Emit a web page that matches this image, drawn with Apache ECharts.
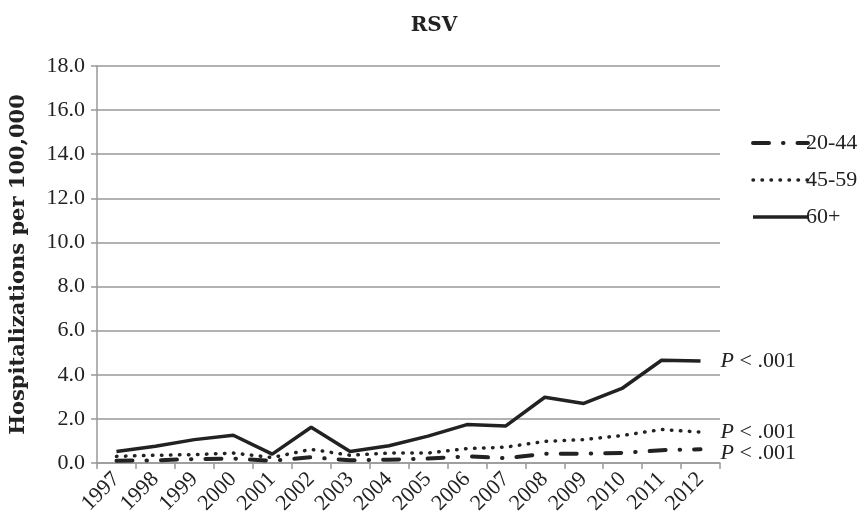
<!DOCTYPE html>
<html><head><meta charset="utf-8">
<script src="https://cdn.jsdelivr.net/npm/echarts@6/dist/echarts.min.js"></script>
<style>html,body{margin:0;padding:0;background:#fff}#c{width:862px;height:521px}</style>
</head><body><div id="c"></div>
<script>
const years = ['1997','1998','1999','2000','2001','2002','2003','2004','2005','2006','2007','2008','2009','2010','2011','2012'];
const s2044 = [0.10,0.12,0.18,0.20,0.10,0.26,0.12,0.15,0.20,0.30,0.22,0.42,0.42,0.46,0.58,0.62];
const s4559 = [0.30,0.35,0.38,0.45,0.25,0.62,0.35,0.45,0.45,0.65,0.72,0.98,1.06,1.25,1.52,1.40];
const s60 = [0.52,0.76,1.06,1.26,0.40,1.62,0.52,0.78,1.22,1.74,1.68,2.98,2.70,3.40,4.66,4.62];
const yTicks = [0,2,4,6,8,10,12,14,16,18];

const font = 'Liberation Serif';
const chart = echarts.init(document.getElementById('c'));
const endLbl = (dy) => ({
  show: true, formatter: '{i|P} < .001', distance: 20, offset: [0, dy],
  fontFamily: font, fontSize: 22, color: '#222',
  rich: { i: { fontStyle: 'italic', fontFamily: font, fontSize: 22, color: '#222' } }
});
chart.setOption({
  animation: false,
  title: { text: 'RSV', left: 429, top: 11, textAlign: 'center',
    textStyle: { fontFamily: 'DejaVu Serif', fontSize: 20, fontWeight: 'bold', color: '#222' } },
  legend: {
    orient: 'vertical', left: 746, top: 127, itemWidth: 55, itemHeight: 14, itemGap: 15,
    itemStyle: { opacity: 0 },
    textStyle: { fontFamily: font, fontSize: 22, color: '#222', padding: [0,0,0,-7] },
    data: [
      { name: '20-44', lineStyle: { width: 4 } },
      { name: '45-59', lineStyle: { width: 3.5 } },
      { name: '60+', lineStyle: { width: 3.5 } }
    ]
  },
  grid: { left: 96, right: 142, top: 66, bottom: 58 },
  xAxis: {
    type: 'category', data: years, boundaryGap: true,
    axisLine: { lineStyle: { color: '#999', width: 1.5 } },
    axisTick: { show: true, length: 6, lineStyle: { color: '#999', width: 1.5 } },
    axisLabel: { rotate: 45, fontFamily: font, fontSize: 22, color: '#222', margin: 13, interval: 0 }
  },
  yAxis: {
    type: 'value', min: 0, max: 18, interval: 2,
    name: 'Hospitalizations per 100,000', nameLocation: 'middle', nameGap: 68,
    nameTextStyle: { fontFamily: 'DejaVu Serif', fontSize: 21, fontWeight: 'bold', color: '#222' },
    axisLine: { show: true, lineStyle: { color: '#999', width: 1.5 } },
    axisTick: { show: true, length: 6, lineStyle: { color: '#999', width: 1.5 } },
    splitLine: { lineStyle: { color: '#999', width: 1.5 } },
    axisLabel: { fontFamily: font, fontSize: 22, color: '#222', margin: 12,
      formatter: v => yTicks.includes(v) ? v.toFixed(1) : '' }
  },
  series: [
    { name: '20-44', type: 'line', data: s2044, symbol: 'none', color: '#222',
      lineStyle: { color: '#222', width: 4, type: [16, 14, 0.5, 14], cap: 'round' },
      endLabel: endLbl(4) },
    { name: '45-59', type: 'line', data: s4559, symbol: 'none', color: '#222',
      lineStyle: { color: '#222', width: 3.5, type: [0.5, 8.5], cap: 'round' },
      endLabel: endLbl(0) },
    { name: '60+', type: 'line', data: s60, symbol: 'none', color: '#222',
      lineStyle: { color: '#222', width: 3.5, type: 'solid' },
      endLabel: endLbl(0) }
  ]
});
</script></body></html>
